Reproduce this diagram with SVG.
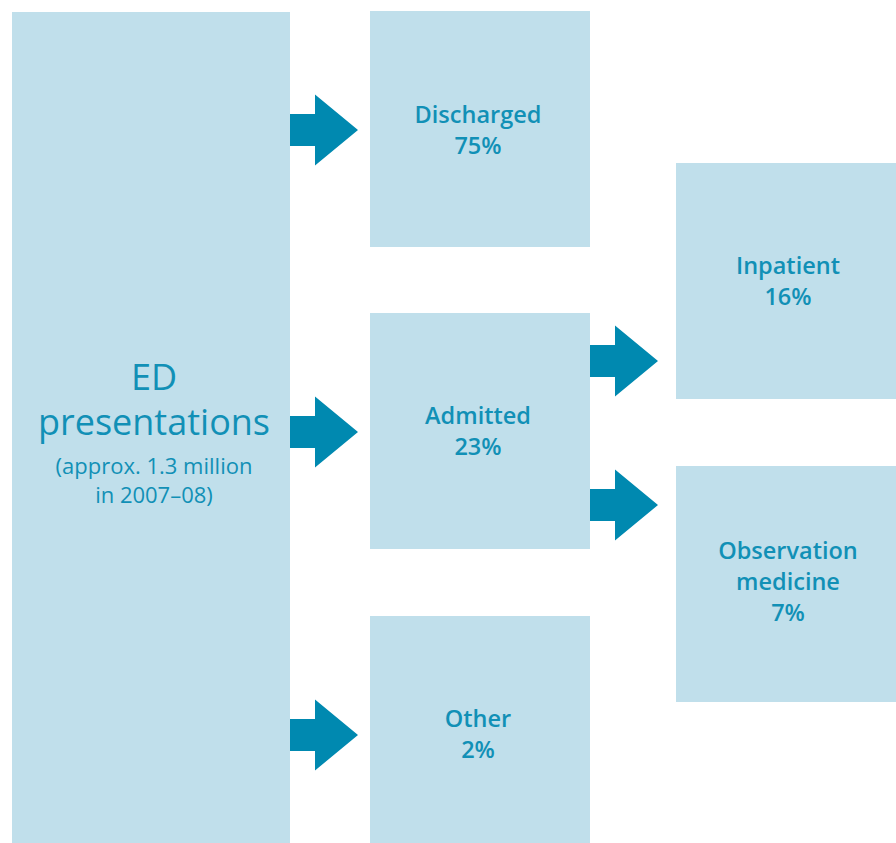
<svg xmlns="http://www.w3.org/2000/svg" width="896" height="843" viewBox="0 0 896 843">
  <style>
    .box { fill: #c0dfeb; }
    .arrow { fill: #0089b0; }
    .lbl { font-family: "Open Sans", "Liberation Sans", sans-serif; font-weight: 600; font-size: 23.5px; fill: #1190b6; text-anchor: middle; }
    .big { font-family: "Open Sans", "Liberation Sans", sans-serif; font-weight: 500; font-size: 36px; fill: #1190b6; text-anchor: middle; }
    .sub { font-family: "Open Sans", "Liberation Sans", sans-serif; font-size: 22px; fill: #1190b6; text-anchor: middle; }
  </style>
  <defs>
    <path id="arr" d="M0,-16 H25 V-35.5 L68,0 L25,35.5 V16 H0 Z"/>
  </defs>
  <rect width="896" height="843" fill="#ffffff"/>

  <g id="ed">
    <rect class="box" x="12" y="12" width="278" height="831"/>
    <text class="big" x="154" y="390">ED</text>
    <text class="big" x="154" y="435">presentations</text>
    <text class="sub" x="154" y="474">(approx. 1.3 million</text>
    <text class="sub" x="154" y="503">in 2007–08)</text>
  </g>

  <g id="discharged">
    <rect class="box" x="370" y="11" width="220" height="236"/>
    <text class="lbl" x="478" y="123">Discharged</text>
    <text class="lbl" x="478" y="154">75%</text>
  </g>

  <g id="admitted">
    <rect class="box" x="370" y="313" width="220" height="236"/>
    <text class="lbl" x="478" y="424">Admitted</text>
    <text class="lbl" x="478" y="455">23%</text>
  </g>

  <g id="other">
    <rect class="box" x="370" y="616" width="220" height="227"/>
    <text class="lbl" x="478" y="727">Other</text>
    <text class="lbl" x="478" y="758">2%</text>
  </g>

  <g id="inpatient">
    <rect class="box" x="676" y="163" width="220" height="236"/>
    <text class="lbl" x="788" y="274">Inpatient</text>
    <text class="lbl" x="788" y="305">16%</text>
  </g>

  <g id="observation">
    <rect class="box" x="676" y="466" width="220" height="236"/>
    <text class="lbl" x="788" y="559">Observation</text>
    <text class="lbl" x="788" y="590">medicine</text>
    <text class="lbl" x="788" y="621">7%</text>
  </g>

  <g id="connectors">
    <use href="#arr" class="arrow" x="290" y="130"/>
    <use href="#arr" class="arrow" x="290" y="432"/>
    <use href="#arr" class="arrow" x="290" y="735"/>
    <use href="#arr" class="arrow" x="590" y="361"/>
    <use href="#arr" class="arrow" x="590" y="505"/>
  </g>
</svg>
